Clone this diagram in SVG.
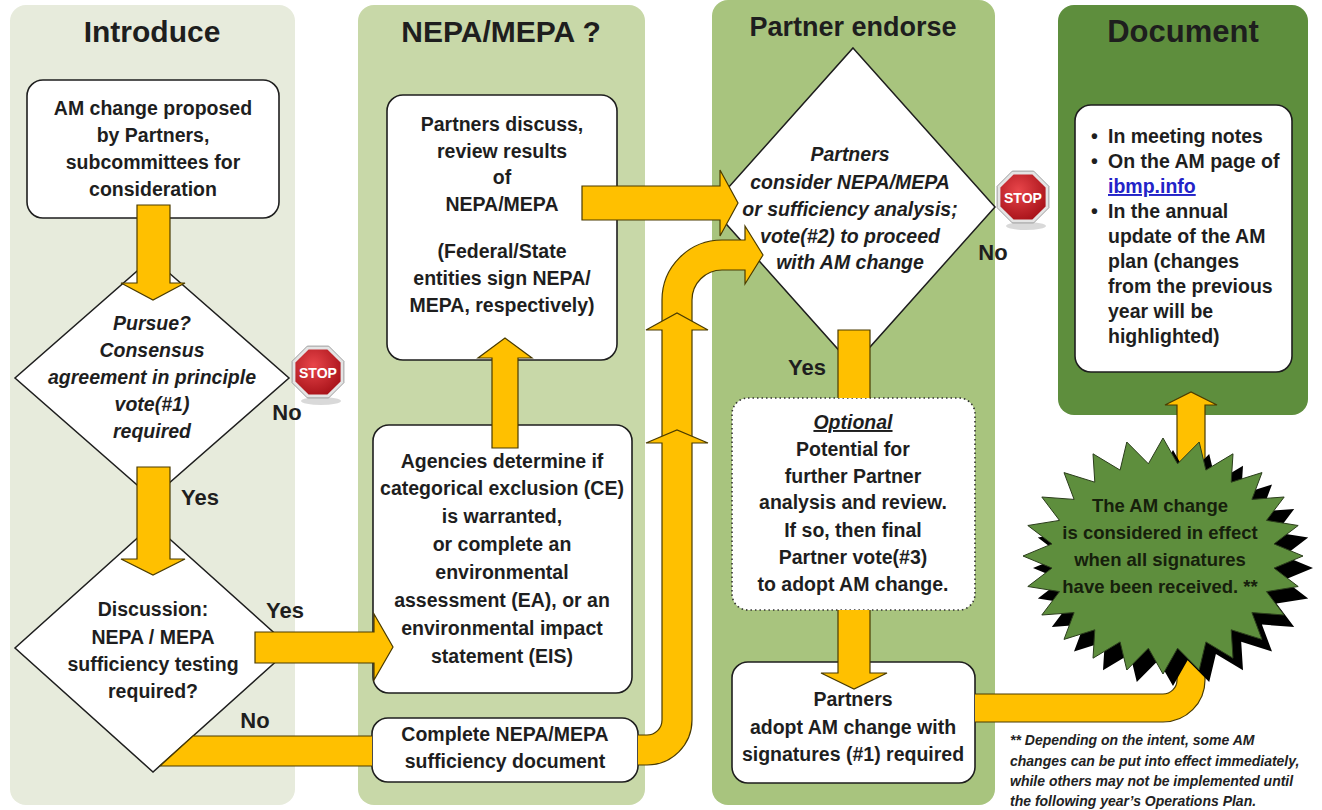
<svg xmlns="http://www.w3.org/2000/svg" width="1322" height="810" viewBox="0 0 1322 810">
<defs>
<style>
text{font-family:"Liberation Sans",Arial,sans-serif;font-weight:bold;fill:#1e1e1e}
.title{font-size:30px;text-anchor:middle}
.t{font-size:19.5px;text-anchor:middle}
.i{font-style:italic}
.lbl{font-size:22px;text-anchor:middle}
.box{fill:#fff;stroke:#1e1e1e;stroke-width:1.6}
.dia{fill:#fff;stroke:#1e1e1e;stroke-width:1.5}
.arr{fill:#FFC000;stroke:#4a3b00;stroke-width:1.2}
.doc{font-size:19.5px}
.foot{font-size:14px;font-style:italic;fill:#222}
.stopt{font-size:15px;fill:#fff;text-anchor:middle}
.burst-t{fill:#16200c;font-size:18.5px;text-anchor:middle}
</style>
<radialGradient id="sg" cx="0.4" cy="0.35" r="0.75">
<stop offset="0" stop-color="#e8454a"/><stop offset="1" stop-color="#a30f16"/>
</radialGradient>
</defs>

<g id="lanes">
<rect x="10" y="5" width="285" height="800" rx="16" fill="#E7EBDC"/>
<rect x="358" y="5" width="287" height="800" rx="16" fill="#C8D8A8"/>
<rect x="712" y="0" width="283" height="805" rx="16" fill="#A8C47E"/>
<rect x="1058" y="5" width="250" height="410" rx="16" fill="#5E8E3D"/>
<text class="title" x="152" y="42">Introduce</text>
<text class="title" x="501" y="42">NEPA/MEPA ?</text>
<text class="title" x="853" y="36" style="font-size:27px">Partner endorse</text>
<text class="title" x="1183" y="42" style="font-size:31px">Document</text>
</g>

<g id="n-propose">
<rect class="box" x="27" y="80" width="252" height="138" rx="16"/>
<text class="t" x="153" y="115">AM change proposed</text>
<text class="t" x="153" y="142">by Partners,</text>
<text class="t" x="153" y="169">subcommittees for</text>
<text class="t" x="153" y="196">consideration</text>
</g>

<g id="n-pursue">
<polygon class="dia" points="152,258 289,378 152,498 15,378"/>
<text class="t i" x="152" y="330">Pursue?</text>
<text class="t i" x="152" y="357">Consensus</text>
<text class="t i" x="152" y="384">agreement in principle</text>
<text class="t i" x="152" y="411">vote(#1)</text>
<text class="t i" x="152" y="438">required</text>
</g>

<g id="n-discussion">
<polygon class="dia" points="153,524 291,648 153,772 15,648"/>
<text class="t" x="153" y="616">Discussion:</text>
<text class="t" x="153" y="644">NEPA / MEPA</text>
<text class="t" x="153" y="671">sufficiency testing</text>
<text class="t" x="153" y="698">required?</text>
</g>

<g id="n-review">
<rect class="box" x="387" y="95" width="230" height="265" rx="16"/>
<text class="t" x="502" y="131">Partners discuss,</text>
<text class="t" x="502" y="158">review results</text>
<text class="t" x="502" y="184">of</text>
<text class="t" x="502" y="211">NEPA/MEPA</text>
<text class="t" x="502" y="258">(Federal/State</text>
<text class="t" x="502" y="285">entities sign NEPA/</text>
<text class="t" x="502" y="312">MEPA, respectively)</text>
</g>

<g id="n-agencies">
<rect class="box" x="373" y="425" width="259" height="268" rx="16"/>
<text class="t" x="502" y="468">Agencies determine if</text>
<text class="t" x="502" y="495">categorical exclusion (CE)</text>
<text class="t" x="502" y="523">is warranted,</text>
<text class="t" x="502" y="551">or complete an</text>
<text class="t" x="502" y="579">environmental</text>
<text class="t" x="502" y="607">assessment (EA), or an</text>
<text class="t" x="502" y="635">environmental impact</text>
<text class="t" x="502" y="663">statement (EIS)</text>
</g>

<g id="n-complete">
<rect class="box" x="372" y="718" width="266" height="64" rx="16"/>
<text class="t" x="505" y="741">Complete NEPA/MEPA</text>
<text class="t" x="505" y="768">sufficiency document</text>
</g>

<g id="n-consider">
<polygon class="dia" points="853,48 995,207 853,366 711,207"/>
<text class="t i" x="850" y="161">Partners</text>
<text class="t i" x="850" y="189">consider NEPA/MEPA</text>
<text class="t i" x="850" y="216">or sufficiency analysis;</text>
<text class="t i" x="850" y="243">vote(#2) to proceed</text>
<text class="t i" x="850" y="269">with AM change</text>
</g>

<g id="n-optional">
<rect x="732" y="398" width="243" height="212" rx="16" fill="#fff" stroke="#333" stroke-width="1.6" stroke-dasharray="1.5 3"/>
<text class="t i" x="853" y="429" text-decoration="underline">Optional</text>
<text class="t" x="853" y="456">Potential for</text>
<text class="t" x="853" y="483">further Partner</text>
<text class="t" x="853" y="509">analysis and review.</text>
<text class="t" x="853" y="537">If so, then final</text>
<text class="t" x="853" y="564">Partner vote(#3)</text>
<text class="t" x="853" y="591">to adopt AM change.</text>
</g>

<g id="n-adopt">
<rect class="box" x="732" y="662" width="243" height="121" rx="16"/>
<text class="t" x="853" y="706">Partners</text>
<text class="t" x="853" y="734">adopt AM change with</text>
<text class="t" x="853" y="761">signatures (#1) required</text>
</g>

<g id="n-document">
<rect class="box" x="1075" y="105" width="217" height="267" rx="16"/>
<text class="doc" x="1091" y="143">•</text><text class="doc" x="1108" y="143">In meeting notes</text>
<text class="doc" x="1091" y="168">•</text><text class="doc" x="1108" y="168">On the AM page of</text>
<text class="doc" x="1108" y="193" style="fill:#2323c8" text-decoration="underline">ibmp.info</text>
<text class="doc" x="1091" y="218">•</text><text class="doc" x="1108" y="218">In the annual</text>
<text class="doc" x="1108" y="243">update of the AM</text>
<text class="doc" x="1108" y="268">plan (changes</text>
<text class="doc" x="1108" y="293">from the previous</text>
<text class="doc" x="1108" y="318">year will be</text>
<text class="doc" x="1108" y="343">highlighted)</text>
</g>

<g id="stop1" transform="translate(318,372)">
<ellipse cx="3" cy="29" rx="20" ry="4" fill="#000" opacity="0.15"/>
<polygon points="10.7,-25.9 25.9,-10.7 25.9,10.7 10.7,25.9 -10.7,25.9 -25.9,10.7 -25.9,-10.7 -10.7,-25.9" fill="#e4e4e4" stroke="#8a8a8a" stroke-width="0.8"/>
<polygon points="9.4,-22.6 22.6,-9.4 22.6,9.4 9.4,22.6 -9.4,22.6 -22.6,9.4 -22.6,-9.4 -9.4,-22.6" fill="url(#sg)"/>
<text class="stopt" x="0" y="6" textLength="38" lengthAdjust="spacingAndGlyphs">STOP</text>
</g>

<g id="stop2" transform="translate(1023,197)">
<ellipse cx="3" cy="29" rx="20" ry="4" fill="#000" opacity="0.15"/>
<polygon points="10.7,-25.9 25.9,-10.7 25.9,10.7 10.7,25.9 -10.7,25.9 -25.9,10.7 -25.9,-10.7 -10.7,-25.9" fill="#e4e4e4" stroke="#8a8a8a" stroke-width="0.8"/>
<polygon points="9.4,-22.6 22.6,-9.4 22.6,9.4 9.4,22.6 -9.4,22.6 -22.6,9.4 -22.6,-9.4 -9.4,-22.6" fill="url(#sg)"/>
<text class="stopt" x="0" y="6" textLength="38" lengthAdjust="spacingAndGlyphs">STOP</text>
</g>

<g id="connectors">
<path class="arr" d="M137,205 L170,205 L170,283 L185,283 L153,300 L121,283 L137,283 Z"/>
<path class="arr" d="M137,467 L170,467 L170,559 L185,559 L153,575 L121,559 L137,559 Z"/>
<path class="arr" d="M255,632 L374,632 L374,614 L393,647 L374,680 L374,663 L255,663 Z"/>
<path class="arr" d="M372,736 L193,736 L160,766 L372,766"/>
<path class="arr" d="M492,448 L518,448 L518,358 L532,358 L505,338 L478,358 L492,358 Z"/>
<path class="arr" d="M582,186 L720,186 L720,170 L738,203 L720,236 L720,220 L582,220 Z"/>
<path class="arr" d="M662,330 L662,300 A60,60 0 0 1 722,240 L745,240 L745,226 L763,255 L745,284 L745,270 L722,270 A30,30 0 0 0 692,300 L692,330 Z"/>
<path class="arr" d="M662,440 L692,440 L692,330 L708,330 L677,313 L646,330 L662,330 Z"/>
<path class="arr" d="M638,765 L647,765 A45,45 0 0 0 692,720 L692,443 L708,443 L677,430 L646,443 L662,443 L662,720 A15,15 0 0 1 647,735 L638,735"/>
<path class="arr" d="M838,398 L838,330 L870,330 L870,398"/>
<path class="arr" d="M838,610 L838,673 L821,673 L854,689 L887,673 L870,673 L870,610"/>
<path class="arr" d="M975,694 L1163,694 A14,14 0 0 0 1177,680 L1177,600 L1205,600 L1205,680 A42,42 0 0 1 1163,722 L975,722"/>
<path class="arr" d="M1177,480 L1177,405 L1165,405 L1191,392 L1217,405 L1205,405 L1205,480 Z"/>
<text class="lbl" x="287" y="420">No</text>
<text class="lbl" x="200" y="505">Yes</text>
<text class="lbl" x="285" y="618">Yes</text>
<text class="lbl" x="255" y="728">No</text>
<text class="lbl" x="993" y="260">No</text>
<text class="lbl" x="807" y="375">Yes</text>
</g>

<g id="n-effect">
<polygon transform="translate(10,12)" fill="#000" points="1163,438 1177.6,463.8 1199.2,442 1205.9,470.1 1233,453.8 1231.2,482.2 1262,472.6 1251.9,499.4 1284.2,497 1266.5,520.4 1298.2,525.5 1274,543.9 1303,556 1274,568.1 1298.2,586.5 1266.5,591.6 1284.2,615 1251.9,612.6 1262,639.4 1231.2,629.8 1233,658.2 1205.9,641.9 1199.2,670 1177.6,648.2 1163,674 1148.4,648.2 1126.8,670 1120.1,641.9 1093,658.2 1094.8,629.8 1064,639.4 1074.1,612.6 1041.8,615 1059.5,591.6 1027.8,586.5 1052,568.1 1023,556 1052,543.9 1027.8,525.5 1059.5,520.4 1041.8,497 1074.1,499.4 1064,472.6 1094.8,482.2 1093,453.8 1120.1,470.1 1126.8,442 1148.4,463.8"/>
<polygon fill="#5E8E3D" stroke="#2b3d1c" stroke-width="1" points="1163,438 1177.6,463.8 1199.2,442 1205.9,470.1 1233,453.8 1231.2,482.2 1262,472.6 1251.9,499.4 1284.2,497 1266.5,520.4 1298.2,525.5 1274,543.9 1303,556 1274,568.1 1298.2,586.5 1266.5,591.6 1284.2,615 1251.9,612.6 1262,639.4 1231.2,629.8 1233,658.2 1205.9,641.9 1199.2,670 1177.6,648.2 1163,674 1148.4,648.2 1126.8,670 1120.1,641.9 1093,658.2 1094.8,629.8 1064,639.4 1074.1,612.6 1041.8,615 1059.5,591.6 1027.8,586.5 1052,568.1 1023,556 1052,543.9 1027.8,525.5 1059.5,520.4 1041.8,497 1074.1,499.4 1064,472.6 1094.8,482.2 1093,453.8 1120.1,470.1 1126.8,442 1148.4,463.8"/>
<text class="burst-t" x="1160" y="512">The AM change</text>
<text class="burst-t" x="1160" y="539">is considered in effect</text>
<text class="burst-t" x="1160" y="566">when all signatures</text>
<text class="burst-t" x="1160" y="593">have been received. **</text>
</g>

<g id="footnote">
<text class="foot" x="1010" y="745">** Depending on the intent, some AM</text>
<text class="foot" x="1010" y="766">changes can be put into effect immediately,</text>
<text class="foot" x="1010" y="786">while others may not be implemented until</text>
<text class="foot" x="1010" y="806">the following year’s Operations Plan.</text>
</g>
</svg>
